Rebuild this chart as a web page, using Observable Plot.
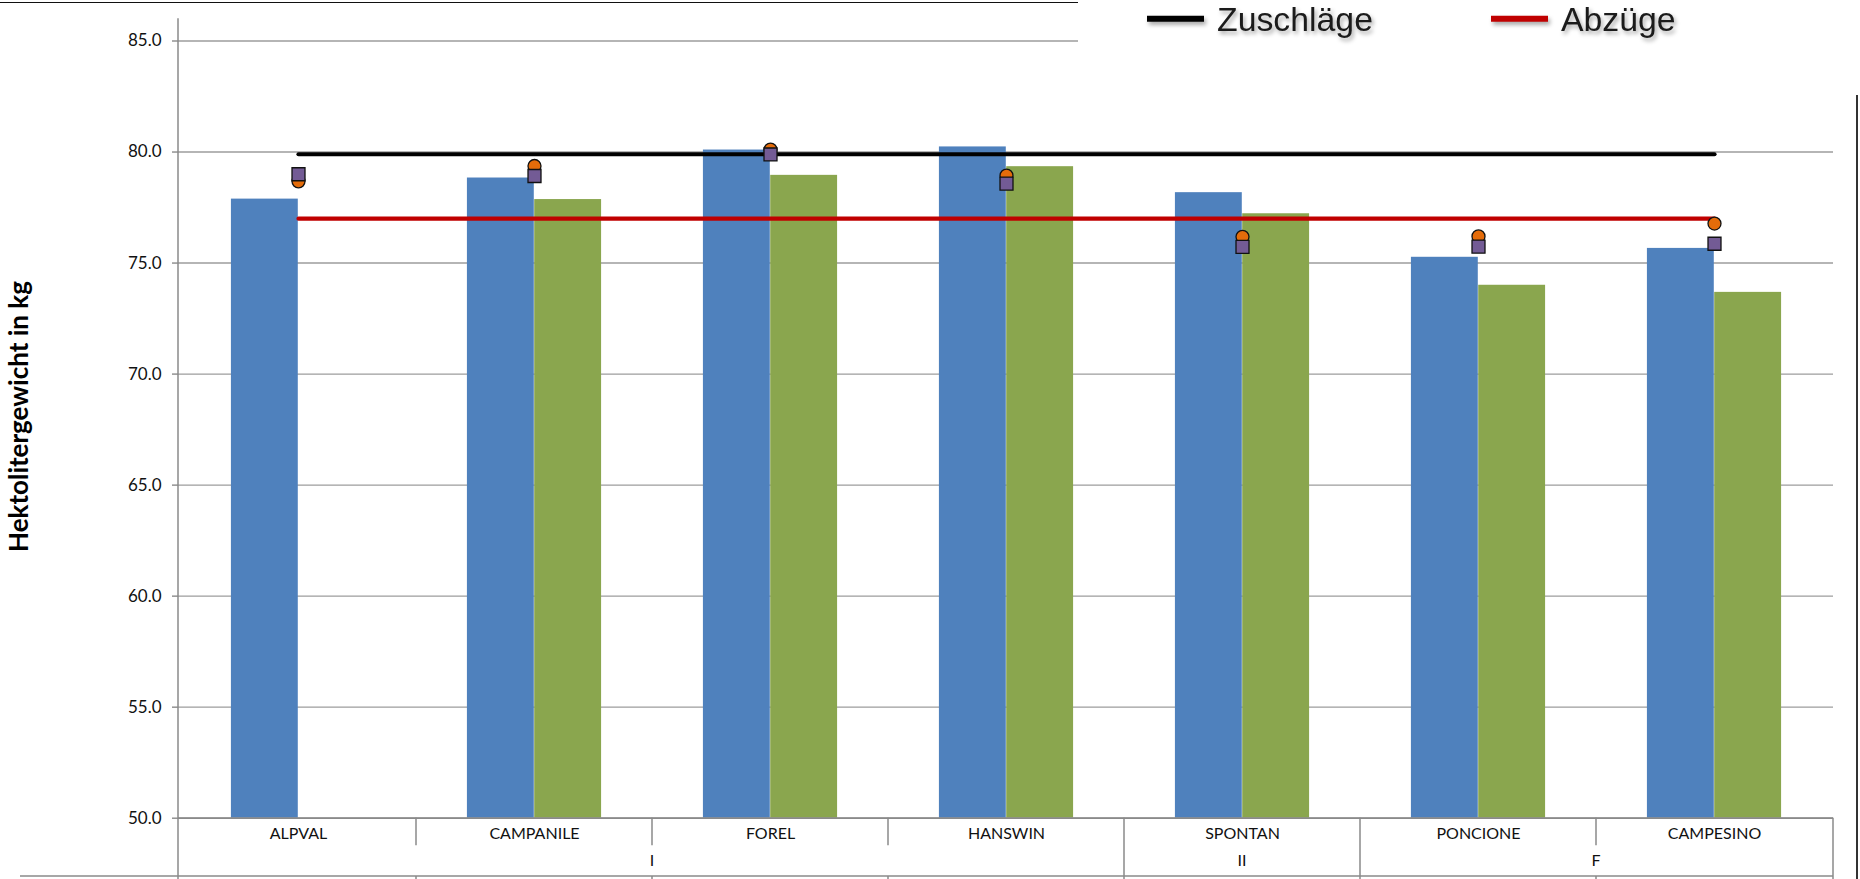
<!DOCTYPE html>
<html>
<head>
<meta charset="utf-8">
<script src="https://cdn.jsdelivr.net/npm/d3@7"></script>
<script src="https://cdn.jsdelivr.net/npm/@observablehq/plot@0.6"></script>
<style>
  html, body { margin: 0; padding: 0; background: #fff; overflow: hidden; }
  #wrap { position: relative; width: 1860px; height: 879px; }
  #wrap > svg { position: absolute; left: 0; top: 0; }
  #topBorder { position: absolute; left: 0; top: 2px; width: 1078px; height: 0; border-top: 1.5px solid #111; }
  #rightBorder { position: absolute; left: 1856px; top: 95px; width: 0; height: 784px; border-left: 2px solid #333; }
  #legend { position: absolute; left: 1078px; top: 0; width: 778px; height: 95px; background: #fff; }
  #legend svg { position: absolute; left: 0; top: 0; overflow: visible; }
  .shadow { filter: drop-shadow(2px 3px 2px rgba(0,0,0,0.35)); }
</style>
</head>
<body>
<div id="wrap">
  <div id="topBorder"></div>
  <div id="rightBorder"></div>
</div>
<script>
// ---------- data ----------
const sorten       = ["ALPVAL", "CAMPANILE", "FOREL", "HANSWIN", "SPONTAN", "PONCIONE", "CAMPESINO"];
const gruppen      = ["I", "I", "I", "I", "II", "F", "F"];
const serieBlau    = [77.88, 78.83, 80.09, 80.23, 78.17, 75.26, 75.66];
const serieGruen   = [null, 77.86, 78.95, 79.34, 77.22, 74.00, 73.68];
const punktKreis   = [78.68, 79.37, 80.11, 78.94, 76.18, 76.20, 76.78];
const punktQuadrat = [79.00, 78.92, 79.89, 78.58, 75.73, 75.74, 75.87];
const zuschlaege   = [79.9, 79.9, 79.9, 79.9, 79.9, 79.9, 79.9];
const abzuege      = [77.0, 77.0, 77.0, 77.0, 77.0, 77.0, 77.0];
const yTicks       = [50, 55, 60, 65, 70, 75, 80, 85];
const yDomain      = [50, 86];
const yTitel       = "Hektolitergewicht in kg";
const legendeNamen = ["Zuschläge", "Abzüge"];

// ---------- layout ----------
const W = 1860, H = 879;
const mL = 178, mR = 27, mT = 18.3, mB = 61.3;
const barW = 67.3;
const bw = (W - mL - mR) / sorten.length;
const blue = "#4F81BD", green = "#8AA64E", orange = "#E46C0A", purple = "#735B95";
const gridCol = "#9d9d9d", axisCol = "#8a8a8a";

const rows = sorten.map((s, i) => ({
  sorte: s, gruppe: gruppen[i], blau: serieBlau[i], gruen: serieGruen[i],
  kreis: punktKreis[i], quadrat: punktQuadrat[i], zu: zuschlaege[i], ab: abzuege[i]
}));

const plot = Plot.plot({
  width: W, height: H,
  marginLeft: mL, marginRight: mR, marginTop: mT, marginBottom: mB,
  style: { fontFamily: "Lato, sans-serif", background: "transparent", overflow: "visible", color: "#111" },
  x: { domain: sorten, padding: 0, axis: null, label: null },
  y: { domain: yDomain, axis: null, label: null },
  marks: [
    Plot.gridY(yTicks, { stroke: gridCol, strokeOpacity: 1, strokeWidth: 1.4 }),
    Plot.barY(rows, { x: "sorte", y1: yDomain[0], y2: "blau", fill: blue,
      insetLeft: bw / 2 - barW, insetRight: bw / 2 }),
    Plot.barY(rows.filter(d => d.gruen != null), { x: "sorte", y1: yDomain[0], y2: "gruen", fill: green,
      insetLeft: bw / 2, insetRight: bw / 2 - barW }),
    Plot.ruleY([yDomain[0]], { stroke: axisCol, strokeWidth: 1.8 }),
    Plot.lineY(rows, { x: "sorte", y: "zu", stroke: "#000", strokeWidth: 4.2, strokeLinecap: "round" }),
    Plot.lineY(rows, { x: "sorte", y: "ab", stroke: "#C00000", strokeWidth: 4.2, strokeLinecap: "round" }),
    Plot.dot(rows, { x: "sorte", y: "kreis", r: 6.5, fill: orange, stroke: "#111", strokeWidth: 1.3 }),
    Plot.dot(rows, { x: "sorte", y: "quadrat", symbol: "square", r: 7.33, fill: purple, stroke: "#111", strokeWidth: 1.3 }),
    Plot.axisY(yTicks, { tickSize: 6, tickPadding: 11, tickFormat: d3.format(".1f"),
      fontSize: 17, stroke: axisCol, strokeWidth: 1.4, label: null }),
    Plot.axisX({ tickSize: 0, tickPadding: 9.5, fontSize: 16, label: null })
  ]
});

const wrap = document.getElementById("wrap");
wrap.insertBefore(plot, wrap.firstChild);

// ---------- multi-level category table & axis lines (via Plot's scales) ----------
const xs = plot.scale("x"), ys = plot.scale("y");
const svg = d3.select(plot);
const xL = xs.range[0], xR = xs.range[1], bwid = xs.bandwidth;
const yBase = ys.apply(yDomain[0]);
const yTop = ys.apply(yDomain[1]);
const yRow1 = yBase + 27.5;   // end of first level separators
const yRow2 = yBase + 58.3;   // bottom line of the table
const g = svg.append("g").attr("stroke", axisCol).attr("stroke-width", 1.5);

// left value axis line, continues through table
g.append("line").attr("x1", xL).attr("x2", xL).attr("y1", yTop).attr("y2", H);
// bottom table line
g.append("line").attr("x1", 20).attr("x2", xR).attr("y1", yRow2).attr("y2", yRow2);
// separators
sorten.forEach((s, i) => {
  if (i === 0) return;
  const x = xs.apply(s);
  if (gruppen[i] !== gruppen[i - 1]) {
    g.append("line").attr("x1", x).attr("x2", x).attr("y1", yBase).attr("y2", H);
  } else {
    g.append("line").attr("x1", x).attr("x2", x).attr("y1", yBase).attr("y2", yRow1);
    g.append("line").attr("x1", x).attr("x2", x).attr("y1", yRow2).attr("y2", H);
  }
});
g.append("line").attr("x1", xR).attr("x2", xR).attr("y1", yBase).attr("y2", H);

// group labels
const groups = [];
gruppen.forEach((gr, i) => {
  const last = groups[groups.length - 1];
  if (last && last.name === gr) last.b = i; else groups.push({ name: gr, a: i, b: i });
});
svg.append("g")
  .attr("font-family", "Lato, sans-serif").attr("font-size", 16).attr("fill", "#111")
  .attr("text-anchor", "middle")
  .selectAll("text").data(groups).join("text")
  .attr("x", d => (xs.apply(sorten[d.a]) + xs.apply(sorten[d.b]) + bwid) / 2)
  .attr("y", yBase + 48.5)
  .text(d => d.name);

// y title
svg.append("text")
  .attr("transform", `translate(28,416.5) rotate(-90)`)
  .attr("text-anchor", "middle")
  .attr("font-family", "Lato, sans-serif").attr("font-weight", "bold").attr("font-size", 26)
  .attr("fill", "#000")
  .text(yTitel);

// ---------- legend ----------
const legend = document.createElement("div");
legend.id = "legend";
const ls = d3.select(legend).append("svg").attr("width", 778).attr("height", 95);
const items = [
  { name: legendeNamen[0], color: "#000", x: 69 },
  { name: legendeNamen[1], color: "#C00000", x: 413 }
];
items.forEach(it => {
  const gi = ls.append("g").attr("class", "shadow");
  gi.append("line").attr("x1", it.x).attr("x2", it.x + 57).attr("y1", 18.8).attr("y2", 18.8)
    .attr("stroke", it.color).attr("stroke-width", 6);
  gi.append("text").attr("x", it.x + 70).attr("y", 31)
    .attr("font-family", "'Liberation Sans', Arial, sans-serif").attr("font-size", 33.8)
    .attr("fill", "#1b1b1b").text(it.name);
});
wrap.appendChild(legend);
</script>
</body>
</html>
